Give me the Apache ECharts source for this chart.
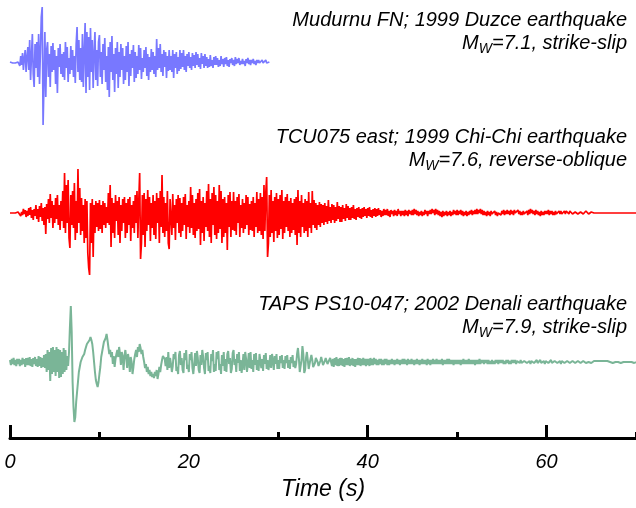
<!DOCTYPE html>
<html><head><meta charset="utf-8">
<script src="https://cdn.jsdelivr.net/npm/echarts@6/dist/echarts.min.js"></script>
<style>html,body{margin:0;padding:0;background:#fff}#c{width:636px;height:508px}</style>
</head><body><div id="c"></div><script>
// sample step (s)
const dt = 0.1;
// Mudurnu FN, 1999 Duzce (relative acceleration)
const duzce = [
0,1,0,-1,1,0,-1,1,-1,0,
2,-4,6,-3,9,-8,4,12,-10,5,
15,-8,22,-18,6,28,-12,-25,18,-6,
20,-15,28,-22,10,45,55,-63,-20,30,
-35,12,20,-15,8,-25,16,-10,19,-8,
12,-22,6,-31,14,-5,18,-12,8,-15,
10,-18,20,-6,15,-20,4,-12,16,-8,
12,-15,6,-21,18,35,-10,22,-18,14,
-20,28,-25,10,39,-31,30,-15,25,-28,
34,-10,22,-26,8,30,-18,12,-24,20,
27,-15,10,-22,18,-8,24,-20,6,-28,
15,-35,20,-10,26,-18,8,-30,14,-12,
20,-26,10,-15,18,-8,14,-22,6,-18,
16,-10,20,-24,8,-14,12,-6,17,-20,
10,-16,6,-12,17,-8,14,-17,4,-10,
12,-6,15,-14,8,-18,5,-10,13,-8,
10,-12,6,-15,23,-8,14,-6,18,-10,
8,-14,12,-5,10,-16,6,-9,12,-8,
6,-10,12,-16,8,-6,10,-12,5,-9,
12,-7,9,-5,12,-8,6,-10,8,-4,
10,-6,5,-8,9,-4,7,-6,10,-3,
8,-5,4,-7,9,-2,6,-6,8,-4,
5,-6,3,-5,7,-4,2,-6,5,-3,
6,-3,4,-5,2,-4,6,-2,3,-5,
4,-2,5,-4,2,-5,3,-1,4,-3,
2,-4,5,-2,3,-1,4,-3,1,-2,
3,-2,1,-4,3,-1,4,-2,2,-3,
2,-1,3,-2,1,-3,2,-1,2,-1,
1,-2,2,-1,1,-1,2,-1,0,0,
0];
// TCU075 east, 1999 Chi-Chi
const chichi = [
0,0,0,0,0,0,0,0,0,1,
-1,2,-3,1,-2,4,-1,3,-4,2,
-3,5,-2,6,-5,3,-7,4,-3,8,
-6,4,-9,7,-4,10,-8,5,-12,6,
-21,9,-6,14,-10,19,-5,12,-15,8,
-10,15,-6,18,-12,8,-17,12,-8,22,
-15,40,-20,28,-10,33,-25,-35,18,-12,
22,-15,30,-27,12,-20,44,-10,25,-22,
15,-18,8,-30,14,-25,12,-40,-55,-62,
10,-30,14,-44,8,-20,12,-14,10,-18,
13,-16,8,-20,12,-12,10,-15,6,-10,
20,-12,28,-34,15,-20,10,-25,18,-8,
12,-22,16,-30,8,-18,14,-10,16,-25,
10,-20,14,-12,16,-28,8,-15,12,-20,
18,-10,22,-25,12,40,-46,-30,18,-22,
20,-34,14,-18,23,-12,16,-28,10,-15,
18,-22,12,-26,20,-10,15,-30,22,-14,
38,-20,16,-24,10,-18,22,-30,-36,14,
12,-22,19,-15,8,-27,14,-10,18,-20,
15,-24,10,-18,16,-12,19,-26,8,-14,
12,-20,26,-15,18,-22,10,-25,14,-18,
20,-16,24,-32,12,-20,16,-28,10,-14,
22,-18,29,-24,14,-30,20,-12,26,-22,
18,-26,12,-20,28,-16,22,-30,14,-24,
16,-20,10,-37,18,-14,21,-24,12,-17,
21,-18,12,-22,16,-10,19,-24,8,-15,
14,-20,10,-16,18,-12,16,-22,9,-17,
12,-18,16,-24,10,-14,21,-20,14,-18,
20,-22,16,-26,28,-18,20,36,-44,-30,
18,-24,23,-20,12,-29,16,-18,20,-25,
14,-22,18,-16,23,-26,12,-20,16,-14,
19,-18,12,-24,15,-20,10,-17,14,-22,
16,-32,23,-20,12,-24,18,-14,10,-20,
14,-18,12,-24,21,-15,10,-20,22,-12,
13,-15,10,-17,8,-12,11,-14,9,-10,
8,-12,10,-9,7,-11,13,-8,6,-10,
9,-7,8,-10,6,-8,11,-6,7,-9,
6,-9,8,-6,5,-8,9,-5,7,-7,
5,-7,6,-5,8,-6,4,-7,5,-4,
6,-5,4,-6,5,-4,6,-3,4,-5,
5,-3,6,-4,3,-5,4,-3,5,-4,
4,-3,5,-2,3,-4,2,-3,4,-2,
3,-2,4,-3,2,-4,3,-1,2,-3,
3,-2,2,-3,4,-1,2,-3,2,-2,
2,-3,3,-2,2,-3,3,-1,2,-2,
3,-2,4,-1,3,-2,2,-3,1,-2,
2,-3,1,-2,3,-1,2,-3,2,-1,
3,-1,4,0,3,-2,4,-1,3,-2,
2,-3,1,-4,2,-3,1,-2,2,-3,
1,-2,2,-3,1,-2,3,-1,2,-2,
3,-2,2,-1,3,-2,2,-3,1,-2,
2,-3,1,-2,2,-1,3,-2,2,-1,
3,-1,4,-1,3,0,4,-1,3,-2,
2,-2,1,-3,2,-2,1,-3,2,-1,
1,-3,2,-2,1,-3,0,-2,1,-2,
2,-1,3,-2,2,-1,3,-1,2,-2,
3,-1,2,-2,3,0,2,-1,3,-1,
2,-2,1,-2,2,-1,1,-3,2,-2,
3,-1,4,0,3,-1,2,-2,3,-1,
2,-2,1,-3,2,-2,1,-2,2,-1,
2,-1,3,-2,2,-1,2,-2,1,-2,
2,-1,1,-2,2,-1,2,-1,1,-2,
2,-1,2,0,3,-1,2,0,2,-1,
1,-2,1,-1,2,-1,1,-2,1,-1,
2,-1,1,-1,2,0,1,-1,1,0,
1,-1,1,0,1,-1,0,1,0,0,
0,0,0,0,0,0,0,0,0,0,
0,0,0,0,0,0,0,0,0,0,
0,0,0,0,0,0,0,0,0,0,
0,0,0,0,0,0,0,0,0,0,
0];
// TAPS PS10-047, 2002 Denali
const denali = [
2,-3,3,-2,4,-3,2,-4,3,-2,
3,-4,2,-3,4,-2,3,-5,4,-3,
4,-3,5,-4,3,-5,4,-2,5,-4,
3,-5,6,-4,5,-6,4,-5,7,-6,
8,-10,12,-8,10,-19,14,-12,15,-10,
12,-14,15,-10,13,-16,12,-15,10,-12,
14,-10,12,-8,6,-4,10,35,56,30,
-20,-45,-60,-55,-40,-30,-20,-10,-5,0,
2,5,3,8,12,15,18,16,20,22,
25,22,18,10,0,-10,-18,-22,-25,-20,
-12,-5,5,10,15,20,18,24,28,22,
15,8,12,5,10,-2,6,-5,3,8,
12,5,15,8,-3,10,5,-8,6,12,
4,-6,8,2,-10,5,0,-12,-5,3,
8,12,5,15,10,18,14,8,12,5,
0,-6,-2,-10,-5,-12,-8,-14,-10,-15,
-12,-16,-10,-14,-8,-17,-12,-5,-10,-3,
2,6,8,3,-4,5,-8,10,-6,4,
-2,-10,-4,8,3,10,-9,-5,-12,7,
11,-3,4,-8,-11,9,2,12,-7,-3,
-10,8,2,10,-6,-12,-2,9,-4,11,
4,-8,-11,7,-3,12,5,-6,-12,9,
2,10,-9,-4,-11,8,1,12,-10,-2,
-9,10,3,11,-8,-2,-12,7,-4,10,
-9,3,-10,8,11,-2,4,-11,-7,9,
12,-3,3,-10,8,-1,10,-9,2,-11,
-3,8,-8,10,3,-10,-2,9,-6,10,
-7,2,-10,8,-3,9,-8,2,-9,8,
9,-6,3,-9,7,-2,9,-7,2,-8,
-2,7,-6,8,1,-8,6,-2,8,-7,
2,-7,6,-1,7,-6,2,-7,6,-1,
7,-6,2,-7,5,-1,7,-5,1,-6,
-2,8,14,4,-10,-12,2,16,8,-11,
-8,4,10,2,-7,-6,3,7,2,-5,
-5,-1,4,5,0,-4,-5,1,5,3,
-3,-4,1,4,3,-2,-4,0,4,3,
-4,3,-5,4,-3,5,-4,3,-4,4,
-3,4,-4,3,-5,4,-3,4,-3,5,
-4,3,-3,4,-4,3,-5,3,-3,4,
-3,4,-4,3,-3,4,-3,3,-4,3,
-3,3,-4,4,-3,3,-3,4,-2,3,
-3,2,-3,3,-2,3,-3,2,-3,3,
-2,3,-3,2,-3,2,-2,3,-2,2,
-3,2,-2,3,-2,2,-3,2,-2,3,
-2,3,-2,2,-3,3,-2,2,-2,3,
-2,2,-3,2,-2,3,-2,2,-3,2,
-2,3,-2,2,-2,2,-3,3,-2,2,
-3,2,-2,3,-2,2,-2,3,-2,2,
-2,2,-2,3,-3,2,-2,2,-2,3,
-2,3,-2,2,-2,2,-3,2,-2,2,
-2,2,-2,2,-3,2,-2,3,-2,2,
-2,2,-2,3,-2,2,-2,2,-2,2,
-3,2,-2,2,-2,3,-2,2,-1,2,
-2,2,-1,2,-2,2,-2,1,-2,2,
-2,1,-2,2,-1,2,-2,2,-1,2,
-1,2,-2,1,-2,2,-1,2,-2,1,
-2,2,-1,2,-1,2,-2,1,-1,2,
-1,2,-1,1,-2,1,-1,2,-1,1,
-1,1,-2,1,-1,2,-1,1,-1,2,
-1,1,-1,2,-1,1,-1,1,-2,1,
-1,1,-1,1,-1,2,-1,1,-1,1,
-1,1,-1,1,-1,1,-2,1,-1,1,
-1,1,-1,1,-1,1,-1,1,-1,1,
-1,1,-1,1,0,1,-1,1,-1,1,
-1,1,0,1,-1,1,-1,0,-1,1,
-1,0,-1,1,-1,0,1,-1,0,1,
-1,0,1,-1,0,1,-1,0,1,0,
-1,0,1,0,-1,0,1,0,-1,0,
0,1,0,-1,0,1,0,-1,0,0,
0,1,0,-1,0,0,1,0,-1,0,
0];
const titles = [
  ['Mudurnu FN; 1999 Duzce earthquake', '7.1, strike-slip'],
  ['TCU075 east; 1999 Chi-Chi earthquake', '7.6, reverse-oblique'],
  ['TAPS PS10-047; 2002 Denali earthquake', '7.9, strike-slip']
];
const timeMin = 0, timeMax = 70, majorStep = 20, minorStep = 10;
const axisName = 'Time (s)';

const colors = ['#7878ff', '#ff0000', '#7ab597'];
const FONT = '"Liberation Sans", Arial, Helvetica, sans-serif';
const toXY = arr => arr.map((v, i) => [+(i * dt).toFixed(1), v]);

const grids = [
  {left: 10, right: 0, top: 0, height: 130},
  {left: 10, right: 0, top: 140, height: 150},
  {left: 10, right: 0, top: 290, height: 148}
];
const yRanges = [[-68, 62], [-77, 73], [-76, 72]];
const titleY = [[20, 43], [137, 160], [304, 327]];
const widths = [1.7, 1.7, 2];

const hiddenX = i => ({gridIndex: i, type: 'value', min: timeMin, max: timeMax, show: false});
const option = {
  animation: false,
  grid: grids,
  xAxis: [
    hiddenX(0), hiddenX(1),
    {gridIndex: 2, type: 'value', min: timeMin, max: timeMax, interval: majorStep, position: 'bottom',
     axisLine: {onZero: false, lineStyle: {color: '#000', width: 3}},
     axisTick: {inside: true, length: 13, lineStyle: {color: '#000', width: 3}},
     axisLabel: {margin: 14, fontSize: 20, fontStyle: 'italic', fontFamily: FONT, color: '#000', showMaxLabel: false},
     splitLine: {show: false},
     name: axisName, nameLocation: 'middle', nameGap: 40,
     nameTextStyle: {fontSize: 23, fontStyle: 'italic', fontFamily: FONT, color: '#000'}},
    {gridIndex: 2, type: 'value', min: timeMin, max: timeMax, interval: minorStep, position: 'bottom',
     axisLine: {show: false, onZero: false},
     axisTick: {inside: true, length: 6, lineStyle: {color: '#000', width: 3}},
     axisLabel: {show: false}, splitLine: {show: false}}
  ],
  yAxis: yRanges.map((r, i) => ({gridIndex: i, type: 'value', min: r[0], max: r[1], show: false})),
  series: [duzce, chichi, denali].map((d, i) => ({
    type: 'line', xAxisIndex: i, yAxisIndex: i, data: toXY(d), symbol: 'none', showSymbol: false,
    lineStyle: {color: colors[i], width: widths[i]}, itemStyle: {color: colors[i]},
    clip: false, silent: true
  })),
  graphic: titles.flatMap((t, i) => [
    {type: 'text', x: 627, y: titleY[i][0], style: {text: t[0], align: 'right', verticalAlign: 'middle',
      font: 'italic 20px ' + FONT, fill: '#000'}},
    {type: 'text', x: 627, y: titleY[i][1], style: {text: '{a|M}{s|W}{a|=' + t[1] + '}', align: 'right', verticalAlign: 'middle',
      fill: '#000',
      rich: {a: {fontSize: 20, fontStyle: 'italic', fontFamily: FONT, fill: '#000', lineHeight: 22},
             s: {fontSize: 14, fontStyle: 'italic', fontFamily: FONT, fill: '#000', lineHeight: 14, padding: [12, 0, 0, 0]}}}}
  ])
};
const chart = echarts.init(document.getElementById('c'), null, {renderer: 'canvas'});
chart.setOption(option);
</script></body></html>
